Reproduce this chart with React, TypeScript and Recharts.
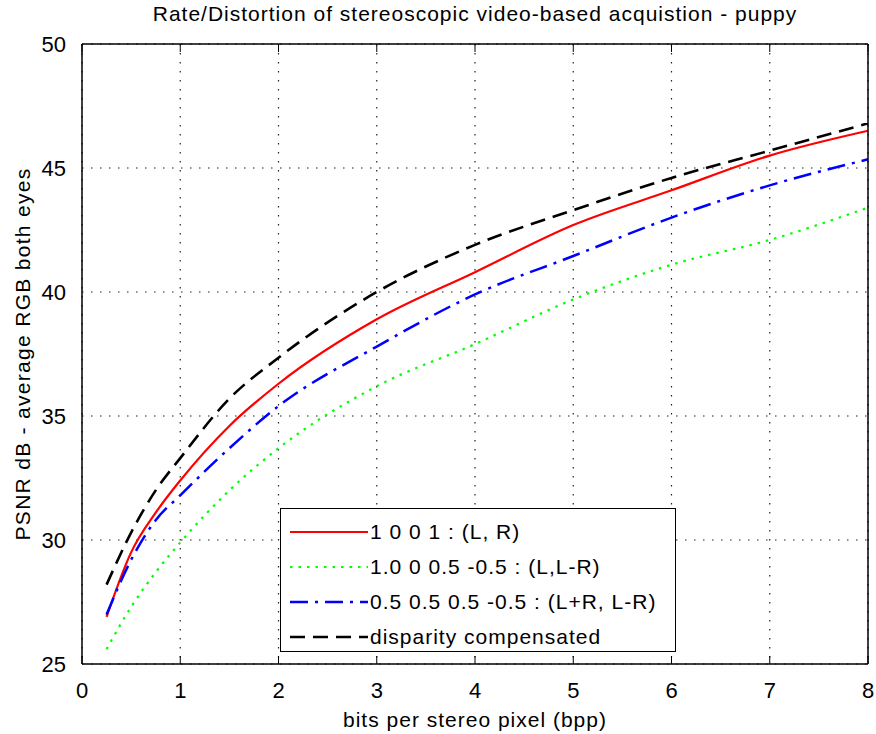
import { CartesianGrid, Label, Legend, Line, LineChart, XAxis, YAxis } from "recharts";

const BPP = [0.25, 0.5, 0.75, 1, 1.5, 2, 3, 4, 5, 6, 7, 8];
const LR = [26.9, 29.5, 31.1, 32.4, 34.6, 36.3, 38.9, 40.8, 42.7, 44.1, 45.5, 46.5];
const L_LMR = [25.6, 27.3, 28.7, 29.9, 32.0, 33.7, 36.2, 37.9, 39.7, 41.1, 42.1, 43.4];
const LPR_LMR = [27.0, 29.2, 30.8, 31.8, 33.7, 35.4, 37.8, 39.9, 41.45, 43.0, 44.3, 45.35];
const DISP = [28.2, 30.3, 32.0, 33.3, 35.7, 37.35, 40.0, 41.9, 43.3, 44.6, 45.7, 46.8];

const X_TICKS = [0, 1, 2, 3, 4, 5, 6, 7, 8];
const Y_TICKS = [25, 30, 35, 40, 45, 50];

const FONT = "'Liberation Sans', Arial, sans-serif";

const SERIES = [
  { key: "lr", name: "1 0 0 1 : (L, R)", color: "#ff0000", dash: undefined, width: 2.2 },
  { key: "llr", name: "1.0 0 0.5 -0.5 : (L,L-R)", color: "#00ff00", dash: "2.5 6", width: 2.2 },
  { key: "lplr", name: "0.5 0.5 0.5 -0.5 : (L+R, L-R)", color: "#0000ff", dash: "18 7 3 7", width: 2.5 },
  { key: "disp", name: "disparity compensated", color: "#000000", dash: "15 8", width: 2.6 },
];

const data = BPP.map((bpp, i) => ({
  bpp,
  lr: LR[i],
  llr: L_LMR[i],
  lplr: LPR_LMR[i],
  disp: DISP[i],
}));

const NoTick = () => <g />;

function LegendBox() {
  return (
    <div
      style={{
        boxSizing: "border-box",
        width: 396,
        height: 144,
        border: "1.5px solid #000",
        background: "#fff",
        padding: "5px 0 0 8px",
        fontFamily: FONT,
        fontSize: 21,
        letterSpacing: 1,
        color: "#000",
      }}
    >
      {SERIES.map((s) => (
        <div key={s.key} style={{ display: "flex", alignItems: "center", height: 35 }}>
          <svg width={80} height={10} style={{ marginRight: 1 }}>
            <line x1={1} x2={79} y1={5} y2={5} stroke={s.color} strokeWidth={s.width} strokeDasharray={s.dash} />
          </svg>
          <span style={{ whiteSpace: "nowrap" }}>{s.name}</span>
        </div>
      ))}
    </div>
  );
}

export default function App() {
  return (
    <div style={{ position: "relative", width: 876, height: 734, background: "#fff", fontFamily: FONT }}>
      <style>{`body{margin:0}`}</style>
      <div
        style={{
          position: "absolute",
          top: 2,
          left: 82,
          width: 786,
          textAlign: "center",
          fontSize: 21,
          letterSpacing: 1,
          color: "#000",
          zIndex: 2,
        }}
      >
        Rate/Distortion of stereoscopic video-based acquistion - puppy
      </div>
      <LineChart width={876} height={734} data={data} margin={{ top: 44, right: 8, left: 0, bottom: 0 }}>
        <CartesianGrid stroke="#222" strokeDasharray="1.5 7.5" strokeWidth={1.2} />
        <XAxis
          type="number"
          dataKey="bpp"
          domain={[0, 8]}
          ticks={X_TICKS}
          height={70}
          tickLine={false}
          tickMargin={12}
          axisLine={{ stroke: "#000", strokeWidth: 1.5 }}
          tick={{ fontSize: 22, fill: "#000", fontFamily: FONT }}
        >
          <Label
            value="bits per stereo pixel (bpp)"
            position="insideBottom"
            offset={7}
            fontSize={21}
            letterSpacing={1}
            fill="#000"
            fontFamily={FONT}
          />
        </XAxis>
        <YAxis
          type="number"
          domain={[25, 50]}
          ticks={Y_TICKS}
          width={82}
          tickLine={false}
          tickMargin={10}
          axisLine={{ stroke: "#000", strokeWidth: 1.5 }}
          tick={{ fontSize: 22, fill: "#000", fontFamily: FONT }}
          label={{
            content: ({ viewBox }: any) => {
              const cx = viewBox.x + 22;
              const cy = viewBox.y + viewBox.height / 2;
              return (
                <text
                  x={cx}
                  y={cy}
                  transform={`rotate(-90 ${cx} ${cy})`}
                  textAnchor="middle"
                  dominantBaseline="central"
                  fontSize={21}
                  letterSpacing={1.3}
                  fill="#000"
                  fontFamily={FONT}
                >
                  PSNR dB - average RGB both eyes
                </text>
              );
            },
          }}
        />
        <XAxis
          xAxisId="bottomIn"
          type="number"
          dataKey="bpp"
          domain={[0, 8]}
          ticks={X_TICKS}
          orientation="bottom"
          mirror
          height={10}
          tick={NoTick}
          tickSize={8}
          axisLine={false}
          tickLine={{ stroke: "#000" }}
        />
        <XAxis
          xAxisId="top"
          type="number"
          dataKey="bpp"
          domain={[0, 8]}
          ticks={X_TICKS}
          orientation="top"
          mirror
          height={10}
          tick={NoTick}
          tickSize={8}
          axisLine={{ stroke: "#000", strokeWidth: 1.5 }}
          tickLine={{ stroke: "#000" }}
        />
        <YAxis
          yAxisId="leftIn"
          type="number"
          domain={[25, 50]}
          ticks={Y_TICKS}
          orientation="left"
          mirror
          width={10}
          tick={NoTick}
          tickSize={8}
          axisLine={false}
          tickLine={{ stroke: "#000" }}
        />
        <YAxis
          yAxisId="right"
          type="number"
          domain={[25, 50]}
          ticks={Y_TICKS}
          orientation="right"
          mirror
          width={10}
          tick={NoTick}
          tickSize={8}
          axisLine={{ stroke: "#000", strokeWidth: 1.5 }}
          tickLine={{ stroke: "#000" }}
        />
        <Legend
          layout="vertical"
          align="center"
          verticalAlign="middle"
          content={() => <LegendBox />}
          wrapperStyle={{ position: "absolute", left: 280, top: 508, width: 396, height: 144 }}
        />
        {SERIES.map((s) => (
          <Line
            key={s.key}
            type="monotone"
            dataKey={s.key}
            name={s.name}
            stroke={s.color}
            strokeWidth={s.width}
            strokeDasharray={s.dash}
            dot={false}
            activeDot={false}
            isAnimationActive={false}
          />
        ))}
      </LineChart>
    </div>
  );
}
